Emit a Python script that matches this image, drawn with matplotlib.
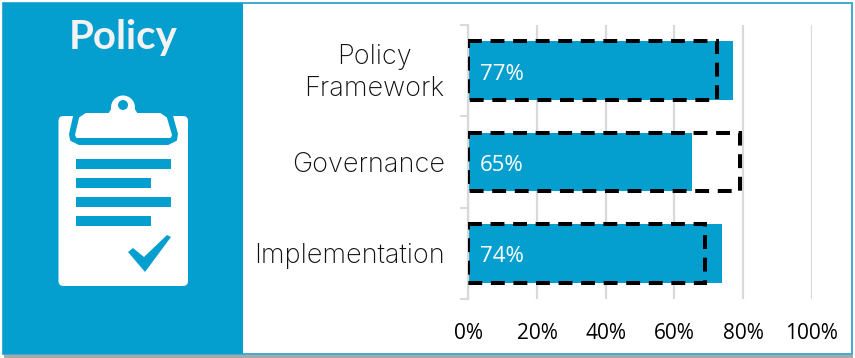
import matplotlib
matplotlib.use('Agg')
import matplotlib.pyplot as plt
from matplotlib.patches import Rectangle, FancyBboxPatch, Circle, Polygon
from matplotlib.transforms import ScaledTranslation

# chart values
categories = ['Policy\nFramework', 'Governance', 'Implementation']
actual = [77, 65, 74]
target = [72.5, 79, 69]
xticks = [0, 20, 40, 60, 80, 100]

BLUE = '#059fcf'
W, H = 855, 358

fig = plt.figure(figsize=(W / 100, H / 100), dpi=100, facecolor='white')

# background layer in pixel coords: frame, side panel and clipboard icon
bg = fig.add_axes([0, 0, 1, 1])
bg.set_xlim(0, W)
bg.set_ylim(H, 0)
bg.axis('off')

bg.add_patch(Rectangle((4, 355), 849, 3, fc='#a8a8a8', ec='none'))
bg.add_patch(Rectangle((3, 3), 849, 351, fc='white', ec='#3fa9d2', lw=1.4))
bg.add_patch(Rectangle((3, 3), 240, 351, fc=BLUE, ec='none'))
bg.text(123.5, 37, 'Policy', color='#f2f2f2', fontsize=29, fontweight='bold',
        family='Lato', ha='center', va='center')

# clipboard
bg.add_patch(FancyBboxPatch((61, 118.5), 124.5, 165, boxstyle='round,pad=2.5,rounding_size=5',
                            fc='white', ec='none'))
bg.add_patch(Polygon([(75, 112), (171, 112), (177, 134), (176, 140), (168, 144),
                      (79, 144), (71, 140), (70, 134)],
                     fc=BLUE, ec=BLUE, lw=1.4, joinstyle='round'))
bg.add_patch(Circle((123, 107.5), 12, fc='white', ec='none'))
bg.add_patch(Polygon([(108, 114), (138, 114), (132, 105), (114, 105)], fc='white', ec='none'))
bg.add_patch(Polygon([(86, 114), (160, 114), (166, 118), (171, 135), (170, 137),
                      (77, 137), (76, 135), (80, 118)],
                     fc='white', ec='white', lw=1.4, joinstyle='round'))
bg.add_patch(Circle((123, 105), 5, fc=BLUE, ec='none'))
for y0, x1 in [(159, 171), (178, 151), (197, 171), (216, 151)]:
    bg.add_patch(Rectangle((76, y0), x1 - 76, 10, fc=BLUE, ec='none'))
bg.add_patch(Polygon([(128, 252), (133, 248), (144, 257), (167, 235), (171, 237), (145, 272)],
                     fc=BLUE, ec='none'))

# the bar chart
ax = fig.add_axes([468.3 / W, 1 - 299.3 / H, 343.4 / W, 274.3 / H])
ax.patch.set_alpha(0)
y = [0, 1, 2]
ax.barh(y, actual, height=0.64, color=BLUE, zorder=2)
ax.barh(y, target, height=0.64, fill=False, edgecolor='black', linewidth=2.9,
        linestyle=(0, (3.45, 2.15)), zorder=3)
for i, v in enumerate(actual):
    ax.text(3.4, i + 0.01, f'{v}%', color='white', fontsize=16, family='Open Sans',
            fontweight='medium', ha='left', va='center_baseline', zorder=4)

ax.set_xlim(0, 100)
ax.set_ylim(2.5, -0.5)
ax.set_xticks(xticks)
ax.set_xticklabels([f'{t}%' for t in xticks], fontsize=15, family='Open Sans', color='black')
ax.tick_params(axis='x', length=0, pad=17)
ax.xaxis.grid(True, color='#d9d9d9', lw=1.6, zorder=0)
ax.set_axisbelow(True)

ax.set_yticks(y)
ax.set_yticklabels(categories, fontsize=19.5, family='Inter', fontweight='light', color='#111111',
                   multialignment='center', linespacing=1.3, va='center')
ax.set_yticks([-0.5, 0.5, 1.5, 2.5], minor=True)
ax.tick_params(axis='y', which='major', length=0, pad=17)
ax.tick_params(axis='y', which='minor', length=6, width=1.4, color='#d9d9d9')

# nudge the category labels down a little
nudge = ScaledTranslation(0, -2.5 / 100, fig.dpi_scale_trans)
for lab in ax.get_yticklabels():
    lab.set_transform(lab.get_transform() + nudge)

for s in ['top', 'right', 'bottom']:
    ax.spines[s].set_visible(False)
ax.spines['left'].set_color('#d9d9d9')
ax.spines['left'].set_linewidth(1.6)

fig.savefig('out.png', dpi=100)
